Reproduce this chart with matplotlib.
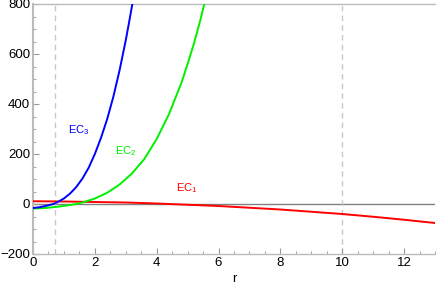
import matplotlib
matplotlib.use("Agg")
import matplotlib.pyplot as plt
from matplotlib.ticker import MultipleLocator

# values
r_ec3 = [0.0, 0.2, 0.4, 0.6, 0.7, 0.8, 1.0, 1.2, 1.4, 1.6, 1.8, 2.0, 2.2, 2.4, 2.6, 2.8, 3.0, 3.1, 3.22]
ec3 = [-16, -13, -8, -2, 2, 8, 22, 42, 68, 102, 145, 200, 265, 340, 430, 535, 655, 722, 805]

r_ec2 = [0.0, 0.4, 0.8, 1.2, 1.4, 1.6, 2.0, 2.4, 2.8, 3.2, 3.6, 4.0, 4.4, 4.8, 5.0, 5.2, 5.4, 5.55]
ec2 = [-18, -16, -11, -4, 0, 6, 22, 45, 78, 122, 180, 260, 360, 485, 560, 640, 730, 805]

r_ec1 = [0, 1, 2, 3, 4, 5, 6, 7, 8, 9, 10, 11, 12, 13]
ec1 = [11, 10, 8, 6, 2, -3, -8, -15, -22, -31, -40, -51, -63, -76]

vlines = [0.7, 10]
labels = [("EC$_3$", 1.48, 295, "blue"),
          ("EC$_2$", 3.0, 210, "#00f000"),
          ("EC$_1$", 4.98, 65, "red")]

plt.rcParams['font.family'] = ['Liberation Sans', 'DejaVu Sans']
plt.rcParams['mathtext.default'] = 'regular'

fig = plt.figure(figsize=(4.36, 2.90), dpi=100)
ax = fig.add_axes([33/436, 36/290, 402/436, 250/290])

ax.axhline(0, color='#808080', lw=1.0, zorder=1)
for v in vlines:
    ax.axvline(v, color='#c8c8c8', lw=1.0, ls=(0, (4, 3)), zorder=1)

ax.plot(r_ec1, ec1, color='red', lw=1.4, zorder=3)
ax.plot(r_ec2, ec2, color='#00f000', lw=1.4, zorder=3)
ax.plot(r_ec3, ec3, color='blue', lw=1.4, zorder=3)

for txt, x, y, c in labels:
    ax.text(x, y, txt, color=c, fontsize=8, ha='center', va='center')

ax.set_xlim(0, 13)
ax.set_ylim(-200, 800)
ax.xaxis.set_major_locator(MultipleLocator(2))
ax.xaxis.set_minor_locator(MultipleLocator(0.5))
ax.yaxis.set_major_locator(MultipleLocator(200))
ax.yaxis.set_minor_locator(MultipleLocator(50))
ax.tick_params(which='both', direction='in', color='#999999', labelsize=9.5, pad=2)
ax.tick_params(which='major', length=4, width=0.8)
ax.tick_params(which='minor', length=2, width=0.6)
ax.set_xlabel('r', fontsize=9.5, labelpad=3)

for s in ['left', 'bottom', 'top']:
    ax.spines[s].set_color('#bbbbbb')
ax.spines['left'].set_linewidth(1.5)
ax.spines['bottom'].set_linewidth(1.0)
ax.spines['top'].set_linewidth(1.0)
ax.spines['right'].set_visible(False)

fig.savefig('out.png', dpi=100)
